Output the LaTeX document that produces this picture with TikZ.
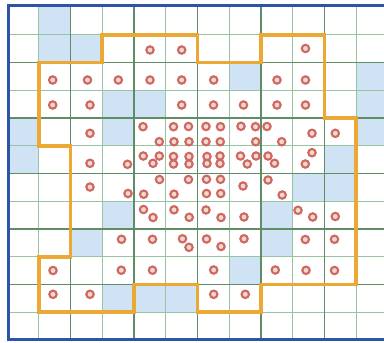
\documentclass[tikz,border=0pt]{standalone}
\usepackage{xcolor}
\usepackage{tikz}
\definecolor{gridmajor}{RGB}{96,140,104}
\definecolor{gridminor}{RGB}{150,196,160}
\definecolor{cellblue}{RGB}{208,227,244}
\definecolor{zoneorange}{RGB}{236,168,52}
\definecolor{frameblue}{RGB}{46,84,168}
\definecolor{ptred}{RGB}{206,104,96}
\definecolor{ptfill}{RGB}{242,218,208}

\begin{document}
\begin{tikzpicture}[
  x=0.025cm, y=-0.025cm,
  minor/.style={draw=gridminor, line width=0.6pt},
  major/.style={draw=gridmajor, line width=1pt},
  water/.style={fill=cellblue},
  zone/.style={draw=zoneorange, line width=2.5pt, line join=miter},
  frame/.style={draw=frameblue, line width=2.8pt},
  pt/.style={draw=ptred, fill=ptfill, line width=1.5pt}
]
\useasboundingbox (0,0) rectangle (384,343);
\fill[white] (0,0) rectangle (384,343);

\begin{scope}[shift={(7,7)}, xscale=31.75, yscale=27.75]
  % shaded cells
  \foreach \c/\r in {1/0, 1/1, 2/1, 7/2, 11/2, 11/3, 11/4, 3/3, 4/3, 3/4,
                     0/4, 0/5, 10/5, 9/6, 10/6, 3/7, 8/7, 8/8, 2/8, 7/9,
                     3/10, 4/10, 5/10}
    \fill[water] (\c,\r) rectangle ++(1,1);
  % grid
  \foreach \i in {1,3,...,11} \draw[minor] (\i,0) -- (\i,12);
  \foreach \j in {1,3,...,11} \draw[minor] (0,\j) -- (12,\j);
  \foreach \i in {2,4,...,10} \draw[major] (\i,0) -- (\i,12);
  \foreach \j in {2,4,...,10} \draw[major] (0,\j) -- (12,\j);
  % zone outline
  \draw[zone] (3,1) -- (6,1) -- (6,2) -- (8,2) -- (8,1) -- (10,1) -- (10,4)
    -- (11,4) -- (11,10) -- (8,10) -- (8,11) -- (6,11) -- (6,10) -- (4,10)
    -- (4,11) -- (1,11) -- (1,9) -- (2,9) -- (2,5) -- (1,5) -- (1,2)
    -- (3,2) -- cycle;
\end{scope}

% frame
\draw[frame] (384,5.5) -- (8.5,5.5) -- (8.5,339.5) -- (384,339.5);

% points
\foreach \x/\y in {150/50, 181.7/50, 305.5/48.5,
    52.7/80, 87.5/80, 118.3/80, 150/80, 181.7/80, 213.7/80, 277/80, 305.5/80,
    52.7/105, 90/105, 181.7/105, 213.5/105, 243.5/105, 277/105, 305.5/105,
    90/133.3, 143/126.7, 173.5/126.7, 188.5/126.5, 206/126.5, 220.5/126.7,
    241/126.3, 255.5/126.7, 267/126.5, 312/133.3, 335.3/133.3,
    159.3/141.7, 174/141.7, 189/141.7, 206/141.7, 220.3/141.7, 255.7/141.7,
    281.7/141.7,
    90/163.3, 127.5/164.3, 143.3/156, 153/163.3, 159.3/156, 173.5/156.5,
    173.5/164, 189/156.5, 189/164, 207/156.5, 207/163.5, 220/156, 220/163.5,
    240.5/156, 247.3/164, 256/156, 268/156, 274.5/163.3, 312/152.7, 305.3/164,
    90/187, 159.5/179.5, 188.5/179.5, 206.5/179.3, 220.5/179.3, 243/186,
    268/180, 128/193.5, 143.7/194.2, 174/194.2, 206.5/193.5, 220.7/193.5,
    282.2/195,
    143.5/209.5, 153/217.5, 174/209.8, 189.2/217.3, 206/210, 221/217.5,
    244/217, 298/210.3, 312.7/217, 335.3/216.5,
    121.5/239.3, 152.5/239.3, 182.5/238.8, 189/247.3, 206.5/239, 221/246.5,
    244/238.8, 305.3/239.5, 334.5/239.3,
    53/270.5, 121.3/270.2, 152.5/270.2, 213.7/270, 275.3/270, 306/270.3,
    334.5/270.5,
    53/294.3, 90/294.3, 213.7/294.3, 245.3/294.3}
  \draw[pt] (\x,\y) circle[radius=3.7];
\end{tikzpicture}
\end{document}
